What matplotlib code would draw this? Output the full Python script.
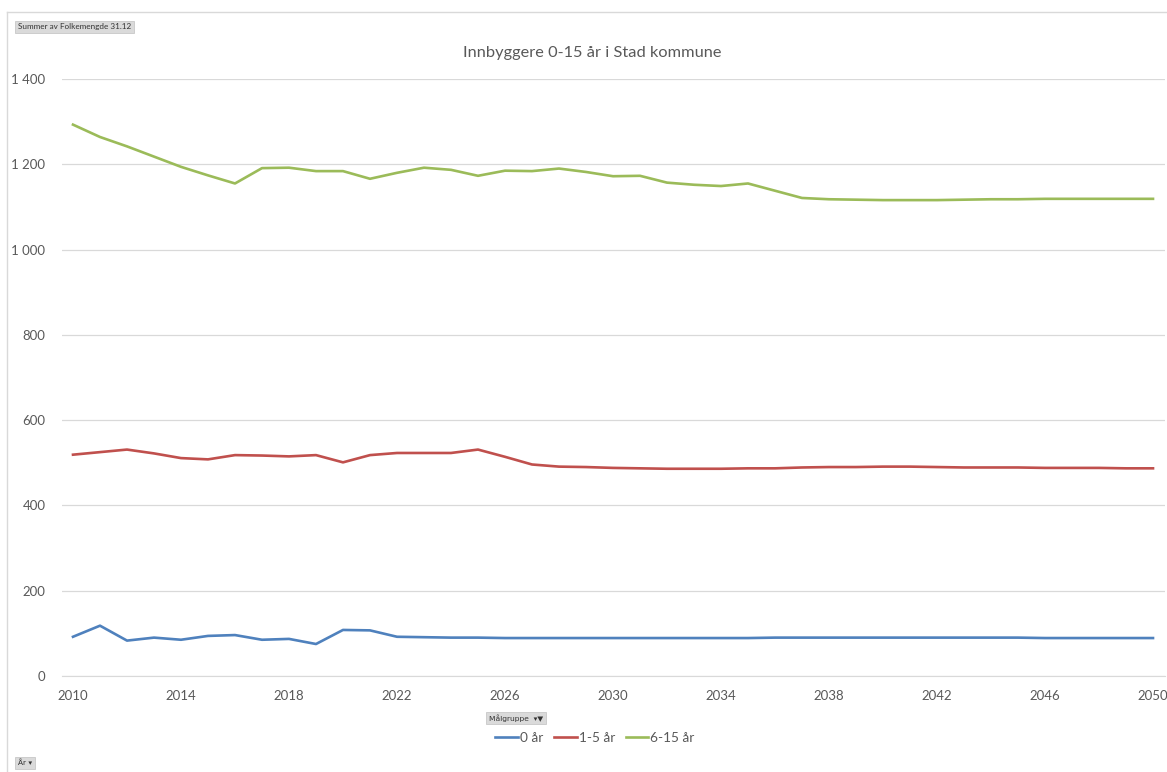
import matplotlib
matplotlib.use("Agg")
import matplotlib.pyplot as plt
from matplotlib.lines import Line2D
from matplotlib.ticker import FuncFormatter

# data lest av figuren
aar = list(range(2010, 2051))

null_aar = [92, 118, 83, 90, 85, 94, 96, 85, 87, 75, 108, 107, 92, 91, 90, 90,
            89, 89, 89, 89, 89, 89, 89, 89, 89, 89, 90, 90, 90, 90, 90, 90,
            90, 90, 90, 90, 89, 89, 89, 89, 89]

en_fem_aar = [519, 525, 531, 522, 511, 508, 518, 517, 515, 518, 501, 518, 523,
              523, 523, 531, 514, 496, 491, 490, 488, 487, 486, 486, 486, 487,
              487, 489, 490, 490, 491, 491, 490, 489, 489, 489, 488, 488, 488,
              487, 487]

seks_femten_aar = [1293, 1264, 1242, 1218, 1194, 1174, 1155, 1191, 1192, 1184,
                   1184, 1166, 1180, 1192, 1187, 1173, 1185, 1184, 1190, 1182,
                   1172, 1173, 1157, 1152, 1149, 1155, 1138, 1121, 1118, 1117,
                   1116, 1116, 1116, 1117, 1118, 1118, 1119, 1119, 1119, 1119,
                   1119]

serier = ["0 år", "1-5 år", "6-15 år"]
farger = ["#4F81BD", "#C0504D", "#9BBB59"]
tittel = "Innbyggere 0-15 år i Stad kommune"

plt.rcParams["font.family"] = ["Lato", "DejaVu Sans"]
grå = "#595959"

fig = plt.figure(figsize=(11.67, 7.72), dpi=100)
ax = fig.add_axes([62 / 1167, 96 / 772, 1103 / 1167, 597 / 772])

for verdier, navn, farge in zip([null_aar, en_fem_aar, seks_femten_aar], serier, farger):
    ax.plot(aar, verdier, color=farge, lw=1.9, label=navn, clip_on=False,
            solid_joinstyle="round")

ax.set_ylim(0, 1400)
ax.set_yticks(range(0, 1401, 200))
ax.yaxis.set_major_formatter(FuncFormatter(lambda v, p: f"{int(v):,}".replace(",", " ")))
ax.set_xlim(2010 - 11 / 27, 2010 - 11 / 27 + 1103 / 27)
ax.set_xticks(range(2010, 2051, 4))

ax.grid(axis="y", color="#D9D9D9", lw=0.9)
ax.set_axisbelow(True)
for s in ["top", "right", "left"]:
    ax.spines[s].set_visible(False)
ax.spines["bottom"].set_color("#D9D9D9")
ax.tick_params(length=0, labelsize=9.5, colors=grå)
ax.tick_params(axis="y", pad=12)
ax.tick_params(axis="x", pad=10)

fig.text(592 / 1167, 1 - 53 / 772, tittel, ha="center", va="center",
         fontsize=11.8, color=grå)

ax.legend(loc="center", bbox_to_anchor=(595 / 1167, 1 - 738 / 772),
          bbox_transform=fig.transFigure, ncol=3, frameon=False,
          fontsize=9.8, labelcolor=grå, handlelength=1.65, handletextpad=0.15,
          columnspacing=0.8)

# ramme rundt diagrammet
fig.add_artist(Line2D([7 / 1167, 7 / 1167], [0, 1 - 12 / 772], color="#D9D9D9", lw=1))
fig.add_artist(Line2D([7 / 1167, 1], [1 - 12 / 772, 1 - 12 / 772], color="#D9D9D9", lw=1))

# feltknapper fra pivottabellen
knapp = dict(boxstyle="square,pad=0.35", facecolor="#DADADA", edgecolor="#C8C8C8", lw=0.6)
fig.text(18 / 1167, 1 - 27 / 772, "Summer av Folkemengde 31.12", fontsize=5.9,
         color="#333333", va="center", bbox=knapp)
fig.text(489 / 1167, 1 - 718 / 772, "Målgruppe  ▾▼", fontsize=5.4,
         color="#333333", va="center", bbox=knapp, family=["DejaVu Sans"])
fig.text(18 / 1167, 1 - 763 / 772, "År ▾", fontsize=5.4,
         color="#333333", va="center", bbox=knapp, family=["DejaVu Sans"])

fig.savefig("out.png", dpi=100)
